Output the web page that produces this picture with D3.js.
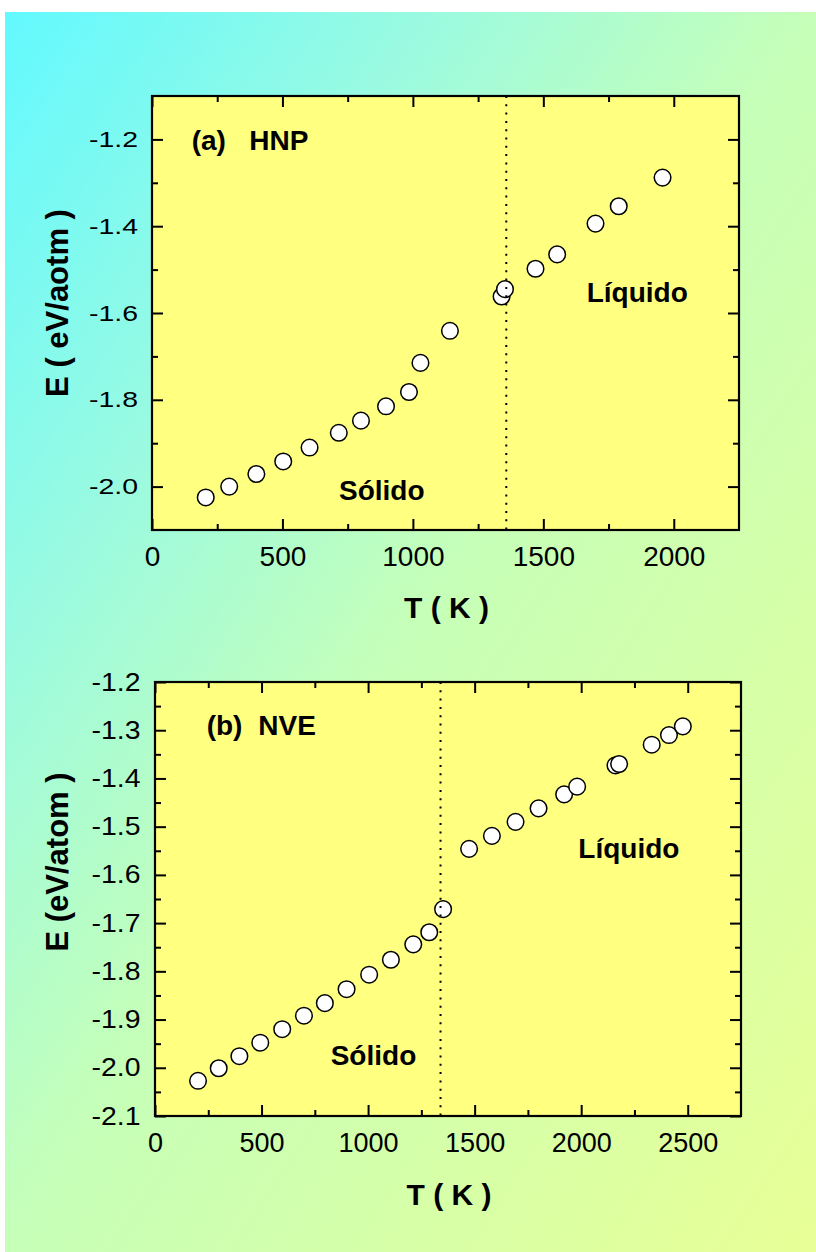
<!DOCTYPE html>
<html>
<head>
<meta charset="utf-8">
<script src="https://cdn.jsdelivr.net/npm/d3@7"></script>
<style>
body { margin: 0; background: #fff; }
</style>
</head>
<body>
<div id="chart-area"></div>
<script>
// Panel (a) HNP
var tempA = [206, 296, 400, 503, 604, 716, 801, 897, 985, 1029, 1142, 1340, 1353, 1470, 1553, 1700, 1789, 1957];
var energyA = [-2.025, -2.000, -1.971, -1.942, -1.910, -1.876, -1.848, -1.815, -1.782, -1.715, -1.641, -1.562, -1.545, -1.498, -1.465, -1.394, -1.354, -1.288];
var xTicksA = [0, 500, 1000, 1500, 2000];
var xMinorA = [250, 750, 1250, 1750];
var yTicksA = [-2.0, -1.8, -1.6, -1.4, -1.2];
var yMinorA = [-1.9, -1.7, -1.5, -1.3];
var meltA = 1358;

// Panel (b) NVE
var tempB = [202, 299, 396, 494, 597, 699, 797, 899, 1005, 1107, 1212, 1287, 1352, 1474, 1581, 1692, 1800, 1920, 1981, 2161, 2178, 2331, 2412, 2477];
var energyB = [-2.027, -2.001, -1.976, -1.948, -1.920, -1.892, -1.866, -1.837, -1.807, -1.776, -1.744, -1.719, -1.671, -1.546, -1.519, -1.490, -1.462, -1.433, -1.417, -1.373, -1.370, -1.330, -1.310, -1.292];
var xTicksB = [0, 500, 1000, 1500, 2000, 2500];
var xMinorB = [250, 750, 1250, 1750, 2250];
var yTicksB = [-2.1, -2.0, -1.9, -1.8, -1.7, -1.6, -1.5, -1.4, -1.3, -1.2];
var yMinorB = [-2.05, -1.95, -1.85, -1.75, -1.65, -1.55, -1.45, -1.35, -1.25];
var meltB = 1340;

var FONT = "'Liberation Sans', Arial, Helvetica, sans-serif";

var svg = d3.select("#chart-area")
    .append("svg")
        .attr("width", 816)
        .attr("height", 1252);

var defs = svg.append("defs");
var grad = defs.append("linearGradient")
    .attr("id", "bg")
    .attr("x1", 0).attr("y1", 0)
    .attr("x2", 1).attr("y2", 1);
grad.append("stop").attr("offset", "0").attr("stop-color", "#62f9ff");
grad.append("stop").attr("offset", "0.25").attr("stop-color", "#98fae2");
grad.append("stop").attr("offset", "0.5").attr("stop-color", "#c6ffb8");
grad.append("stop").attr("offset", "1").attr("stop-color", "#e8ff96");

svg.append("rect")
    .attr("x", 5).attr("y", 12)
    .attr("width", 811).attr("height", 1240)
    .attr("fill", "url(#bg)");

function styleAxis(sel) {
    sel.select(".domain").remove();
    sel.selectAll(".tick line")
        .attr("stroke", "#000")
        .attr("stroke-width", 2);
}

function drawPanel(p) {
    var g = svg.append("g");
    var x = d3.scaleLinear().domain(p.xDomain).range([p.box.left, p.box.right]);
    var y = d3.scaleLinear().domain(p.yDomain).range([p.box.bottom, p.box.top]);

    g.append("rect")
        .attr("x", p.box.left).attr("y", p.box.top)
        .attr("width", p.box.right - p.box.left)
        .attr("height", p.box.bottom - p.box.top)
        .attr("fill", "#ffff80");

    var major = 11, minor = 6;

    // bottom axis with labels
    var xb = g.append("g")
        .attr("transform", "translate(0," + p.box.bottom + ")")
        .call(d3.axisBottom(x).tickValues(p.xTicks).tickSize(-major).tickPadding(p.xPad)
            .tickFormat(function(d){ return d; }));
    styleAxis(xb);
    xb.attr("font-family", FONT).attr("font-size", p.xFont);
    xb.selectAll("text").attr("fill", "#000");

    g.append("g")
        .attr("transform", "translate(0," + p.box.bottom + ")")
        .call(d3.axisBottom(x).tickValues(p.xMinor).tickSize(-minor).tickFormat(""))
        .call(styleAxis);
    g.append("g")
        .attr("transform", "translate(0," + p.box.top + ")")
        .call(d3.axisTop(x).tickValues(p.xTicks).tickSize(-major).tickFormat(""))
        .call(styleAxis);
    g.append("g")
        .attr("transform", "translate(0," + p.box.top + ")")
        .call(d3.axisTop(x).tickValues(p.xMinor).tickSize(-minor).tickFormat(""))
        .call(styleAxis);

    // left axis with labels
    var yl = g.append("g")
        .attr("transform", "translate(" + p.box.left + ",0)")
        .call(d3.axisLeft(y).tickValues(p.yTicks).tickSize(-major).tickPadding(p.yPad)
            .tickFormat(function(d){ return d.toFixed(1); }));
    styleAxis(yl);
    yl.attr("font-family", FONT).attr("font-size", p.yFont);
    yl.selectAll("text")
        .attr("fill", "#000")
        .attr("textLength", p.yLabelWidth)
        .attr("lengthAdjust", "spacingAndGlyphs");

    g.append("g")
        .attr("transform", "translate(" + p.box.left + ",0)")
        .call(d3.axisLeft(y).tickValues(p.yMinor).tickSize(-minor).tickFormat(""))
        .call(styleAxis);
    g.append("g")
        .attr("transform", "translate(" + p.box.right + ",0)")
        .call(d3.axisRight(y).tickValues(p.yTicks).tickSize(-major).tickFormat(""))
        .call(styleAxis);
    g.append("g")
        .attr("transform", "translate(" + p.box.right + ",0)")
        .call(d3.axisRight(y).tickValues(p.yMinor).tickSize(-minor).tickFormat(""))
        .call(styleAxis);

    // frame
    g.append("rect")
        .attr("x", p.box.left).attr("y", p.box.top)
        .attr("width", p.box.right - p.box.left)
        .attr("height", p.box.bottom - p.box.top)
        .attr("fill", "none")
        .attr("stroke", "#000")
        .attr("stroke-width", 2.2);

    // data points
    g.selectAll("circle.pt")
        .data(p.temps)
        .enter()
        .append("circle")
            .attr("class", "pt")
            .attr("cx", function(d){ return x(d); })
            .attr("cy", function(d, i){ return y(p.energies[i]); })
            .attr("r", 8.3)
            .attr("fill", "#fff")
            .attr("stroke", "#000")
            .attr("stroke-width", 1.5);

    // melting line
    g.append("line")
        .attr("x1", x(p.melt)).attr("x2", x(p.melt))
        .attr("y1", p.box.top).attr("y2", p.box.bottom)
        .attr("stroke", "#000")
        .attr("stroke-width", 2)
        .attr("stroke-dasharray", "2,6.3");

    // panel tag
    var tag = g.append("text")
        .attr("x", p.tag.x).attr("y", p.tag.y)
        .attr("font-family", FONT).attr("font-size", 28).attr("font-weight", "bold");
    tag.append("tspan").text(p.tag.a);
    tag.append("tspan").attr("x", p.tag.x2).text(p.tag.b);

    g.append("text")
        .attr("x", p.liq.x).attr("y", p.liq.y)
        .attr("font-family", FONT).attr("font-size", 28).attr("font-weight", "bold")
        .text("Líquido");
    g.append("text")
        .attr("x", p.sol.x).attr("y", p.sol.y)
        .attr("font-family", FONT).attr("font-size", 28).attr("font-weight", "bold")
        .text("Sólido");

    // axis titles
    g.append("text")
        .attr("x", (p.box.left + p.box.right) / 2 + 1)
        .attr("y", p.xTitleY)
        .attr("text-anchor", "middle")
        .attr("font-family", FONT).attr("font-size", 30).attr("font-weight", "bold")
        .style("white-space", "pre")
        .text("T ( K )");
    g.append("text")
        .attr("transform", "translate(" + p.yTitleX + "," + p.yTitleY + ") rotate(-90)")
        .attr("text-anchor", "middle")
        .attr("font-family", FONT).attr("font-size", 31).attr("font-weight", "bold")
        .style("white-space", "pre")
        .text(p.yTitle);
}

drawPanel({
    box: { left: 152, right: 739, top: 96, bottom: 530 },
    xDomain: [0, 2250], yDomain: [-2.1, -1.1],
    xTicks: xTicksA, xMinor: xMinorA, yTicks: yTicksA, yMinor: yMinorA,
    xFont: 28, xPad: 16.5, yFont: 22, yPad: 14, yLabelWidth: 49,
    temps: tempA, energies: energyA, melt: meltA,
    tag: { x: 191.7, y: 150, x2: 249.3, a: "(a)", b: "HNP" },
    liq: { x: 586.7, y: 301.7 },
    sol: { x: 339, y: 500 },
    xTitleY: 618, yTitleX: 68, yTitleY: 303,
    yTitle: "E ( eV/aotm )"
});

drawPanel({
    box: { left: 155, right: 741, top: 682, bottom: 1116 },
    xDomain: [0, 2750], yDomain: [-2.1, -1.2],
    xTicks: xTicksB, xMinor: xMinorB, yTicks: yTicksB, yMinor: yMinorB,
    xFont: 27, xPad: 16.5, yFont: 25, yPad: 14.5, yLabelWidth: 49,
    temps: tempB, energies: energyB, melt: meltB,
    tag: { x: 206.7, y: 735, x2: 258.3, a: "(b)", b: "NVE" },
    liq: { x: 578.3, y: 858.3 },
    sol: { x: 330.7, y: 1065 },
    xTitleY: 1205, yTitleX: 68, yTitleY: 862,
    yTitle: "E (eV/atom )"
});
</script>
</body>
</html>
